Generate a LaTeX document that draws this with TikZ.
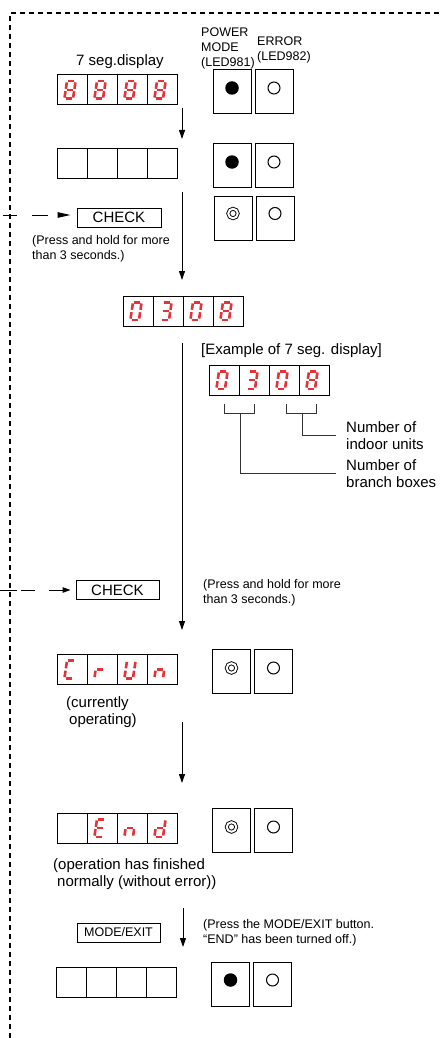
\documentclass[tikz,border=0pt]{standalone}
\usepackage{fontspec}
\setmainfont{Liberation Sans}
\usetikzlibrary{positioning, arrows.meta}

\definecolor{segred}{RGB}{228,50,56}

% segments of one 7 segment digit (local units, y runs downwards)
\newcommand{\dsega}{\draw (-3.1,-8.8) -- (3.1,-8.8);}
\newcommand{\dsegb}{\draw (4.3,-7.6) -- (4.3,-1.2);}
\newcommand{\dsegc}{\draw (4.3,1.2) -- (4.3,7.6);}
\newcommand{\dsegd}{\draw (-3.1,8.8) -- (3.1,8.8);}
\newcommand{\dsege}{\draw (-4.3,1.2) -- (-4.3,7.6);}
\newcommand{\dsegf}{\draw (-4.3,-7.6) -- (-4.3,-1.2);}
\newcommand{\dsegg}{\draw (-3.1,0) -- (3.1,0);}
\newcommand{\dsegx}{}

% four cells of the display: name, x and y of first cell, segments per cell
\newcommand{\segdisp}[4]{%
  \foreach \dig [count=\i] in {#4}{
    \node[segcell] (#1\i) at ({#2+30*(\i-1)},#3) {};
    \begin{scope}[shift={(#1\i.center)}, xshift=-2pt, seg]
      \foreach \s in \dig {\csname dseg\s\endcsname}
    \end{scope}
  }
}

\tikzset{
        x=1pt, y=-1pt, % one unit is one pixel, y runs downwards
        segcell/.style={draw, line width=1pt, minimum width=30pt, minimum height=30pt, inner sep=0pt},
        seg/.style={segred, line width=2.6pt, xslant=0.15},
        ledbox/.style={draw, line width=1pt, minimum width=38pt, minimum height=44pt, inner sep=0pt},
        lampon/.style={circle, fill, minimum size=13.5pt, inner sep=0pt},
        lampoff/.style={circle, draw, line width=1pt, minimum size=12pt, inner sep=0pt},
        lampblink/.style={circle, draw, double, line width=0.9pt, double distance=2pt, minimum size=9.5pt, inner sep=0pt},
        button/.style={draw, line width=1pt, minimum height=19pt, inner sep=0pt},
        big/.style={font=\fontsize{15}{17.5}\selectfont, inner sep=0pt, align=left},
        small/.style={font=\fontsize{12.5}{15}\selectfont, inner sep=0pt, align=left},
        flow/.style={line width=0.9pt, -{Triangle[length=9pt,width=6pt]}},
        stub/.style={line width=1pt},
        bracket/.style={line width=1pt, black!80},
        frame/.style={line width=1.3pt, dash pattern=on 5pt off 4pt},
        }

\begin{document}
\begin{tikzpicture}
        \useasboundingbox (0,0) rectangle (439,1038);

        % dashed frame
        \coordinate (corner) at (10,13);
        \draw[frame] (439,13) -- (corner) -- (10,1038);

        % headings
        \node[big] (segtitle) at (120,62) {7 seg.display};
        \node[small, anchor=west] (pmtext) at (201,48) {POWER\\MODE\\(LED981)};
        \node[small, anchor=west] (ertext) at (257,49.5) {ERROR\\(LED982)};

        % displays
        \segdisp{dA}{72}{90}{{a,b,c,d,e,f,g},{a,b,c,d,e,f,g},{a,b,c,d,e,f,g},{a,b,c,d,e,f,g}}
        \segdisp{dB}{72}{163}{{x},{x},{x},{x}}
        \segdisp{dC}{138}{311}{{a,b,c,d,e,f},{a,b,c,d,g},{a,b,c,d,e,f},{a,b,c,d,e,f,g}}
        \segdisp{ex}{224}{380}{{a,b,c,d,e,f},{a,b,c,d,g},{a,b,c,d,e,f},{a,b,c,d,e,f,g}}
        \segdisp{dD}{72}{669.5}{{a,d,e,f},{e,g},{b,c,d,e,f},{c,e,g}}
        \segdisp{dE}{72}{828}{{x},{a,d,e,f,g},{c,e,g},{b,c,d,e,g}}
        \segdisp{dF}{71}{982}{{x},{x},{x},{x}}

        % LED boxes
        \node[ledbox] (pm1) at (232,92) {};
        \node[ledbox, right=3pt of pm1] (er1) {};
        \node[ledbox] (pm2) at (232,165) {};
        \node[ledbox, right=3pt of pm2] (er2) {};
        \node[ledbox] (pm3) at (233,218.5) {};
        \node[ledbox, right=3pt of pm3] (er3) {};
        \node[ledbox] (pm4) at (231.5,671) {};
        \node[ledbox, right=3pt of pm4] (er4) {};
        \node[ledbox] (pm5) at (231.5,830) {};
        \node[ledbox, right=3pt of pm5] (er5) {};
        \node[ledbox] (pm6) at (230.5,984) {};
        \node[ledbox, right=3pt of pm6] (er6) {};

        \node[lampon] (pm1l) at ([yshift=4pt]pm1.center) {};
        \node[lampoff] (er1l) at ([yshift=4pt]er1.center) {};
        \node[lampon] (pm2l) at ([yshift=3pt]pm2.center) {};
        \node[lampoff] (er2l) at ([yshift=3pt]er2.center) {};
        \node[lampblink] (pm3l) at ([yshift=5pt]pm3.center) {};
        \node[lampoff] (er3l) at ([yshift=5pt]er3.center) {};
        \node[lampblink] (pm4l) at ([yshift=3pt]pm4.center) {};
        \node[lampoff] (er4l) at ([yshift=3pt]er4.center) {};
        \node[lampblink] (pm5l) at ([yshift=3pt]pm5.center) {};
        \node[lampoff] (er5l) at ([yshift=3pt]er5.center) {};
        \node[lampon] (pm6l) at ([yshift=4pt]pm6.center) {};
        \node[lampoff] (er6l) at ([yshift=4pt]er6.center) {};

        % buttons and notes
        \node[button, big, minimum width=84pt] (chk1) at (119,217.5) {CHECK};
        \node[small, anchor=west] (hold1) at (32,248.5) {(Press and hold for more\\than 3 seconds.)};
        \node[big, anchor=west] (extitle) at (201,351) {[Example of 7 seg. display]};
        \node[big, anchor=west, inner xsep=10pt] (units) at (336,435.5) {Number of\\indoor units};
        \node[big, anchor=west, inner xsep=10pt] (boxes) at (336,473.5) {Number of\\branch boxes};
        \node[button, big, minimum width=83pt] (chk2) at (117.5,590) {CHECK};
        \node[small, anchor=west] (hold2) at (203,592.5) {(Press and hold for more\\than 3 seconds.)};
        \node[big, anchor=west] (running) at (66,712) {(currently\\\hspace*{3pt}operating)};
        \node[big, anchor=west] (finished) at (53,874) {(operation has finished\\\hspace*{4pt}normally (without error))};
        \node[button, small, minimum width=83pt] (modeexit) at (118.5,932.5) {MODE/EXIT};
        \node[small, anchor=west] (turnoff) at (203,933) {(Press the MODE/EXIT button.\\``END'' has been turned off.)};

        % brackets of the example
        \draw[bracket] ([yshift=-8pt]ex1.south) -- ++(0,10) -| ([yshift=-8pt]ex2.south);
        \draw[bracket] ([xshift=2pt,yshift=-8pt]ex3.south) -- ++(0,10) -| ([xshift=2pt,yshift=-8pt]ex4.south);
        \coordinate (br1) at (240,413);
        \coordinate (br2) at (302,413);
        \draw[bracket] (br1) |- (boxes.west);
        \draw[bracket] (br2) |- (units.west);

        % CHECK inputs from the left
        \coordinate (in1) at (3,215);
        \coordinate (in2) at (0,590);
        \draw[stub, dash pattern=on 14pt off 15pt on 16pt off 12pt, shorten >=6pt,
              -{Triangle[length=13pt,width=5.5pt]}] (in1) -- (in1 -| chk1.west);
        \draw[stub, dash pattern=on 17pt off 4pt on 14pt off 14pt, shorten >=5pt,
              -{Triangle[length=8pt,width=5.5pt]}] (in2) -- (chk2.west);

        % flow arrows
        \coordinate (s1) at (182,108);  \coordinate (t1) at (182,139);
        \coordinate (s2) at (182,192);  \coordinate (t2) at (182,280);
        \coordinate (s3) at (182,343);  \coordinate (t3) at (182,630);
        \coordinate (s4) at (182,722);  \coordinate (t4) at (182,783);
        \coordinate (s5) at (183,908);  \coordinate (t5) at (183,947);
        \foreach \k in {1,...,5}
                \draw[flow] (s\k) -- (t\k);
\end{tikzpicture}
\end{document}
